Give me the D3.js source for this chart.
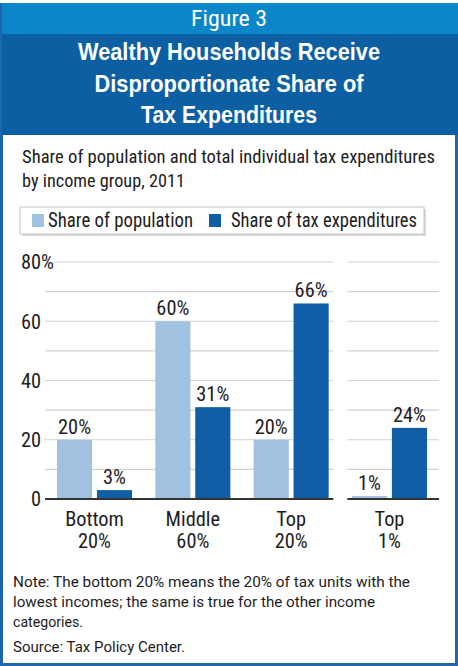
<!DOCTYPE html>
<html>
<head>
<meta charset="utf-8">
<script src="https://cdn.jsdelivr.net/npm/d3@7"></script>
<style>
  body { margin: 0; background: #fff; }
  svg { display: block; }
</style>
</head>
<body>
<svg class="chart" width="458" height="666"></svg>
<script>
// data
const categories = ["Bottom 20%", "Middle 60%", "Top 20%", "Top 1%"];
const categoryLines = [["Bottom", "20%"], ["Middle", "60%"], ["Top", "20%"], ["Top", "1%"]];
const seriesNames = ["Share of population", "Share of tax expenditures"];
const popShare = [20, 60, 20, 1];
const taxShare = [3, 31, 66, 24];
const yLabelTicks = [0, 20, 40, 60, 80];

const figureLabel = "Figure 3";
const titleLines = ["Wealthy Households Receive", "Disproportionate Share of", "Tax Expenditures"];
const subtitleLines = ["Share of population and total individual tax expenditures", "by income group, 2011"];
const noteLines = [
  "Note: The bottom 20% means the 20% of tax units with the",
  "lowest incomes; the same is true for the other income",
  "categories.",
  "Source: Tax Policy Center."
];

const W = 458, H = 666;
const lightBlue = "#a0c1df";
const darkBlue = "#0f5ea6";
const textColor = "#1e1c1d";
const narrow = "'Liberation Sans Narrow', 'Roboto Condensed', 'Liberation Sans', Arial, sans-serif";
const labelSize = "21px";

const svg = d3.select(".chart");

// squeeze text to a given width
function fit(sel, w) {
  sel.attr("textLength", w).attr("lengthAdjust", "spacingAndGlyphs");
}

// frame and header bands
svg.append("rect").attr("x", 0).attr("y", 0).attr("width", W).attr("height", H).attr("fill", "#2066ad");
svg.append("rect").attr("x", 3).attr("y", 135).attr("width", W - 6).attr("height", H - 138).attr("fill", "#fff");
svg.append("rect").attr("x", 0).attr("y", 0).attr("width", W).attr("height", 3).attr("fill", "#fff");
svg.append("rect").attr("x", 2).attr("y", 3).attr("width", W - 2).attr("height", 31).attr("fill", "#0b87c9");
svg.append("rect").attr("x", 2).attr("y", 34).attr("width", W - 2).attr("height", 101).attr("fill", "#0d5fa4");

svg.append("text")
  .attr("x", 229).attr("y", 26)
  .attr("text-anchor", "middle")
  .attr("fill", "#fff")
  .style("font-family", narrow)
  .style("font-size", "22px")
  .text(figureLabel)
  .call(fit, 76);

const titleWidths = [302, 269, 176];
titleLines.forEach((t, i) => {
  svg.append("text")
    .attr("x", 229).attr("y", 60 + i * 31.5)
    .attr("text-anchor", "middle")
    .attr("fill", "#fff")
    .style("font-family", "'Liberation Sans', Arial, sans-serif")
    .style("font-weight", "bold")
    .style("font-size", "23px")
    .text(t)
    .call(fit, titleWidths[i]);
});

// subtitle
const subWidths = [413, 163];
subtitleLines.forEach((t, i) => {
  svg.append("text")
    .attr("x", 22).attr("y", 163 + i * 24)
    .attr("fill", textColor)
    .style("font-family", narrow)
    .style("font-size", "19px")
    .text(t)
    .call(fit, subWidths[i]);
});

// legend
const legend = svg.append("g");
legend.append("rect").attr("x", 22).attr("y", 209).attr("width", 404).attr("height", 27).attr("fill", "#d9d9d9");
legend.append("rect").attr("x", 20).attr("y", 207).attr("width", 404).attr("height", 27)
  .attr("fill", "#fff").attr("stroke", "#c4c4c4").attr("stroke-width", 1);
const legendItems = [
  { name: seriesNames[0], color: lightBlue, sx: 32, tx: 48, tw: 145 },
  { name: seriesNames[1], color: darkBlue, sx: 209, tx: 231, tw: 186 }
];
legendItems.forEach(d => {
  legend.append("rect").attr("x", d.sx).attr("y", 214).attr("width", 12).attr("height", 13).attr("fill", d.color);
  legend.append("text")
    .attr("x", d.tx).attr("y", 227)
    .attr("fill", textColor)
    .style("font-family", narrow)
    .style("font-size", "20px")
    .text(d.name)
    .call(fit, d.tw);
});

// chart scales
const yScale = d3.scaleLinear().domain([0, 80]).range([499, 262]);

const xScale = d3.scaleBand()
  .domain(categories)
  .range([45, 439])
  .paddingInner(0.237)
  .paddingOuter(0.122);

const xSub = d3.scaleBand()
  .domain(seriesNames)
  .range([0, xScale.bandwidth()])
  .paddingInner(0.12);

const colors = d3.scaleOrdinal().domain(seriesNames).range([lightBlue, darkBlue]);

// ratio used to condense chart labels
const probe = svg.append("text").style("font-family", narrow).style("font-size", labelSize).text("20%");
const squeeze = 33 / probe.node().getComputedTextLength();
probe.remove();

function condense(sel) {
  sel.each(function() {
    const len = this.getComputedTextLength();
    d3.select(this).attr("textLength", len * squeeze).attr("lengthAdjust", "spacingAndGlyphs");
  });
}

// split panels: main groups and the top 1% group
const gapMid = (xScale("Top 20%") + xScale.bandwidth() + xScale("Top 1%")) / 2;
const panels = [[45, gapMid - 7], [gapMid + 7, 439]];

const chart = svg.append("g");

// gridlines
const gridTicks = yScale.ticks(8).filter(v => v > 0);
panels.forEach((p, pi) => {
  chart.append("g")
    .selectAll("line")
    .data(gridTicks)
    .enter()
    .append("line")
    .attr("x1", v => (pi === 0 && v === 80 ? 55 : p[0]))
    .attr("x2", p[1])
    .attr("y1", v => yScale(v))
    .attr("y2", v => yScale(v))
    .attr("stroke", "#d2d2d2")
    .attr("stroke-width", 1.2);
});

// y labels
const yLabels = chart.append("g")
  .style("font-family", narrow)
  .style("font-size", labelSize)
  .attr("fill", textColor);
yLabelTicks.forEach(v => {
  yLabels.append("text")
    .attr("x", 41).attr("y", yScale(v)).attr("dy", "0.35em")
    .attr("text-anchor", "end")
    .text(v)
    .call(condense);
  if (v === 80) {
    yLabels.append("text")
      .attr("x", 41).attr("y", yScale(v)).attr("dy", "0.35em")
      .text("%")
      .call(condense);
  }
});

// bars
const rows = categories.map((c, i) => ({ cat: c, values: [popShare[i], taxShare[i]] }));

const groups = chart.selectAll(".grp")
  .data(rows)
  .enter()
  .append("g")
  .attr("class", "grp")
  .attr("transform", d => `translate(${xScale(d.cat)}, 0)`);

groups.selectAll("rect")
  .data(d => d.values.map((v, j) => ({ key: seriesNames[j], value: v })))
  .enter()
  .append("rect")
  .attr("x", d => xSub(d.key))
  .attr("y", d => yScale(d.value))
  .attr("width", xSub.bandwidth())
  .attr("height", d => yScale(0) - yScale(d.value))
  .attr("fill", d => colors(d.key));

groups.selectAll(".val")
  .data(d => d.values.map((v, j) => ({ key: seriesNames[j], value: v })))
  .enter()
  .append("text")
  .attr("class", "val")
  .attr("x", d => xSub(d.key) + xSub.bandwidth() / 2)
  .attr("y", d => yScale(d.value) - 6)
  .attr("text-anchor", "middle")
  .attr("fill", textColor)
  .style("font-family", narrow)
  .style("font-size", labelSize)
  .text(d => d.value + "%")
  .call(condense);

// baseline
panels.forEach(p => {
  chart.append("line")
    .attr("x1", p[0]).attr("x2", p[1])
    .attr("y1", yScale(0)).attr("y2", yScale(0))
    .attr("stroke", "#333")
    .attr("stroke-width", 2);
});

// category labels
categories.forEach((c, i) => {
  const cx = xScale(c) + xScale.bandwidth() / 2;
  categoryLines[i].forEach((line, k) => {
    chart.append("text")
      .attr("x", cx).attr("y", 526 + k * 22)
      .attr("text-anchor", "middle")
      .attr("fill", textColor)
      .style("font-family", narrow)
      .style("font-size", labelSize)
      .text(line)
      .call(condense);
  });
});

// notes
const noteWidths = [397, 362, 70, 172];
const noteY = [587, 607, 627, 652];
noteLines.forEach((t, i) => {
  svg.append("text")
    .attr("x", 13).attr("y", noteY[i])
    .attr("fill", textColor)
    .style("font-family", "Roboto, 'Liberation Sans', sans-serif")
    .style("font-size", "15px")
    .text(t)
    .call(fit, noteWidths[i]);
});
</script>
</body>
</html>
